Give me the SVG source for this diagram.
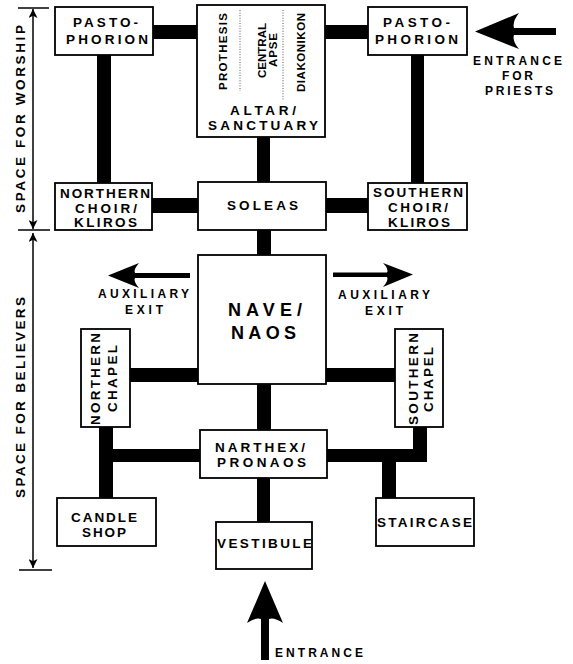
<svg xmlns="http://www.w3.org/2000/svg" width="573" height="664" viewBox="0 0 573 664">
  <style>
    .box { fill: #fff; stroke: #000; stroke-width: 1.8; }
    .bar { fill: #000; }
    .lbl { font-family: "Liberation Sans", Arial, sans-serif; font-weight: bold; font-size: 13.5px; fill: #000; text-anchor: middle; }
    .small { font-size: 11.5px; }
    .big { font-size: 18px; }
    .note { font-size: 12px; }
    .dim { stroke: #000; stroke-width: 1.5; fill: none; }
    .dots { stroke: #444; stroke-width: 0.9; stroke-dasharray: 1 1.6; }
    .arrow { fill: #000; }
  </style>
  <defs>
    <marker id="dimHead" viewBox="0 0 10 10" refX="10" refY="5" markerWidth="9" markerHeight="9" markerUnits="userSpaceOnUse" orient="auto-start-reverse">
      <path d="M0,0 L10,5 L0,10 L2.5,5 Z" fill="#000"/>
    </marker>
  </defs>
  <rect width="573" height="664" fill="#fff"/>

  <!-- thick connecting bars -->
  <g id="connectors">
    <rect class="bar" x="152" y="25" width="46" height="14"/>
    <rect class="bar" x="324" y="25" width="45" height="14"/>
    <rect class="bar" x="97" y="54" width="14" height="130"/>
    <rect class="bar" x="411" y="54" width="13" height="130"/>
    <rect class="bar" x="257" y="136" width="13" height="47"/>
    <rect class="bar" x="151" y="198" width="48" height="15"/>
    <rect class="bar" x="325" y="198" width="44" height="15"/>
    <rect class="bar" x="257" y="229" width="14" height="27"/>
    <rect class="bar" x="129" y="368" width="70" height="14"/>
    <rect class="bar" x="325" y="368" width="71" height="14"/>
    <rect class="bar" x="257" y="383" width="14" height="48"/>
    <rect class="bar" x="99" y="426" width="14" height="73"/>
    <rect class="bar" x="99" y="449" width="102" height="13"/>
    <rect class="bar" x="326" y="449" width="101" height="13"/>
    <rect class="bar" x="413" y="426" width="14" height="36"/>
    <rect class="bar" x="382" y="449" width="14" height="50"/>
    <rect class="bar" x="257" y="477" width="13" height="46"/>
  </g>

  <!-- dimension lines for the two zones -->
  <g id="zones">
    <line class="dim" x1="18" y1="8" x2="49" y2="8"/>
    <line class="dim" x1="18" y1="230" x2="50" y2="230"/>
    <line class="dim" x1="19" y1="570" x2="52" y2="570"/>
    <line class="dim" x1="33" y1="9" x2="33" y2="229" marker-start="url(#dimHead)" marker-end="url(#dimHead)"/>
    <line class="dim" x1="33" y1="233" x2="33" y2="568" marker-start="url(#dimHead)" marker-end="url(#dimHead)"/>
    <text class="lbl" transform="translate(25,119) rotate(-90)" textLength="188" lengthAdjust="spacing">SPACE FOR WORSHIP</text>
    <text class="lbl" transform="translate(25,397.5) rotate(-90)" textLength="201" lengthAdjust="spacing">SPACE FOR BELIEVERS</text>
  </g>

  <g id="pastophorion-north">
    <rect class="box" x="55" y="7" width="98" height="48"/>
    <text class="lbl" x="105.5" y="27" textLength="65" lengthAdjust="spacing">PASTO-</text>
    <text class="lbl" x="107" y="44" textLength="82" lengthAdjust="spacing">PHORION</text>
  </g>

  <g id="altar">
    <rect class="box" x="197" y="5" width="128" height="132"/>
    <line class="dots" x1="240" y1="10" x2="240" y2="91"/>
    <line class="dots" x1="283" y1="10" x2="283" y2="100"/>
    <text class="lbl small" transform="translate(227,51.5) rotate(-90)" textLength="77" lengthAdjust="spacing">PROTHESIS</text>
    <text class="lbl small" transform="translate(266,50.5) rotate(-90)" textLength="55" lengthAdjust="spacing">CENTRAL</text>
    <text class="lbl small" transform="translate(277,50) rotate(-90)" textLength="34" lengthAdjust="spacing">APSE</text>
    <text class="lbl small" transform="translate(305,52.5) rotate(-90)" textLength="79" lengthAdjust="spacing">DIAKONIKON</text>
    <text class="lbl" x="263" y="115" textLength="66" lengthAdjust="spacing">ALTAR/</text>
    <text class="lbl" x="263" y="130" textLength="110" lengthAdjust="spacing">SANCTUARY</text>
  </g>

  <g id="pastophorion-south">
    <rect class="box" x="368" y="7" width="99" height="48"/>
    <text class="lbl" x="416.5" y="27" textLength="67" lengthAdjust="spacing">PASTO-</text>
    <text class="lbl" x="416.5" y="44" textLength="83" lengthAdjust="spacing">PHORION</text>
  </g>

  <g id="priests-entrance">
    <path class="arrow" d="M475,31.5 L519,13 Q512,22 514,28 L556,28 L556,35 L514,35 Q512,41 519,49 Z"/>
    <text class="lbl note" x="517.5" y="65" textLength="89" lengthAdjust="spacing">ENTRANCE</text>
    <text class="lbl note" x="517.5" y="80" textLength="31" lengthAdjust="spacing">FOR</text>
    <text class="lbl note" x="519" y="95" textLength="68" lengthAdjust="spacing">PRIESTS</text>
  </g>

  <g id="choir-north">
    <rect class="box" x="55" y="183" width="97" height="47"/>
    <text class="lbl" x="105" y="198" textLength="90" lengthAdjust="spacing">NORTHERN</text>
    <text class="lbl" x="106" y="212.5" textLength="62" lengthAdjust="spacing">CHOIR/</text>
    <text class="lbl" x="105.5" y="227" textLength="63" lengthAdjust="spacing">KLIROS</text>
  </g>

  <g id="soleas">
    <rect class="box" x="198" y="182" width="128" height="48"/>
    <text class="lbl" x="262.5" y="210" textLength="71" lengthAdjust="spacing">SOLEAS</text>
  </g>

  <g id="choir-south">
    <rect class="box" x="368" y="183" width="99" height="47"/>
    <text class="lbl" x="418" y="197" textLength="90" lengthAdjust="spacing">SOUTHERN</text>
    <text class="lbl" x="418" y="212" textLength="60" lengthAdjust="spacing">CHOIR/</text>
    <text class="lbl" x="419" y="227" textLength="62" lengthAdjust="spacing">KLIROS</text>
  </g>

  <g id="exit-north">
    <path class="arrow" d="M108,275.5 L139,263 Q133,270 135,273 L190,273 L190,278 L135,278 Q133,281 139,288 Z"/>
    <text class="lbl note" x="143.5" y="298" textLength="91" lengthAdjust="spacing">AUXILIARY</text>
    <text class="lbl note" x="144" y="314" textLength="38" lengthAdjust="spacing">EXIT</text>
  </g>

  <g id="nave">
    <rect class="box" x="198" y="255" width="128" height="129"/>
    <text class="lbl big" x="265" y="316" textLength="74" lengthAdjust="spacing">NAVE/</text>
    <text class="lbl big" x="263.5" y="339" textLength="65" lengthAdjust="spacing">NAOS</text>
  </g>

  <g id="exit-south">
    <path class="arrow" d="M413,274.5 L383,263 Q389,269 387,272.5 L333,272.5 L333,277 L387,277 Q389,280 383,287 Z"/>
    <text class="lbl note" x="384" y="299" textLength="92" lengthAdjust="spacing">AUXILIARY</text>
    <text class="lbl note" x="384" y="315" textLength="38" lengthAdjust="spacing">EXIT</text>
  </g>

  <g id="chapel-north">
    <rect class="box" x="81" y="329" width="49" height="98"/>
    <text class="lbl" transform="translate(100,379) rotate(-90)" textLength="92" lengthAdjust="spacing">NORTHERN</text>
    <text class="lbl" transform="translate(117,378.5) rotate(-90)" textLength="67" lengthAdjust="spacing">CHAPEL</text>
  </g>

  <g id="chapel-south">
    <rect class="box" x="395" y="329" width="48" height="98"/>
    <text class="lbl" transform="translate(418,379) rotate(-90)" textLength="92" lengthAdjust="spacing">SOUTHERN</text>
    <text class="lbl" transform="translate(433,379.5) rotate(-90)" textLength="65" lengthAdjust="spacing">CHAPEL</text>
  </g>

  <g id="narthex">
    <rect class="box" x="200" y="430" width="127" height="48"/>
    <text class="lbl" x="260" y="452" textLength="90" lengthAdjust="spacing">NARTHEX/</text>
    <text class="lbl" x="261.5" y="467" textLength="89" lengthAdjust="spacing">PRONAOS</text>
  </g>

  <g id="candle-shop">
    <rect class="box" x="57" y="498" width="99" height="48"/>
    <text class="lbl" x="104" y="522" textLength="66" lengthAdjust="spacing">CANDLE</text>
    <text class="lbl" x="104" y="537" textLength="44" lengthAdjust="spacing">SHOP</text>
  </g>

  <g id="staircase">
    <rect class="box" x="376" y="498" width="98" height="48"/>
    <text class="lbl" x="424.5" y="527" textLength="95" lengthAdjust="spacing">STAIRCASE</text>
  </g>

  <g id="vestibule">
    <rect class="box" x="216" y="522" width="96" height="47"/>
    <text class="lbl" x="264.5" y="548" textLength="95" lengthAdjust="spacing">VESTIBULE</text>
  </g>

  <g id="main-entrance">
    <path class="arrow" d="M265,581 L283,623 Q274,617 269,619 L269,660 L261,660 L261,619 Q256,617 247,623 Z"/>
    <text class="lbl note" x="275" y="657" textLength="88" lengthAdjust="spacing" style="text-anchor:start">ENTRANCE</text>
  </g>
</svg>
